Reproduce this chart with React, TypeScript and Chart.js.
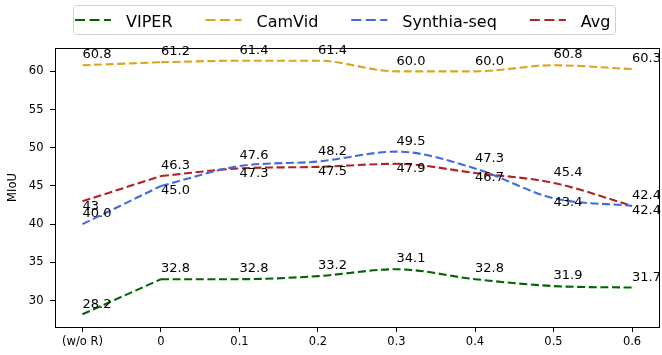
import { useEffect, useRef } from "react";
import { Chart, registerables } from "chart.js";

Chart.register(...registerables);

// ---- data ----
const xLabels = ["(w/o R)", "0", "0.1", "0.2", "0.3", "0.4", "0.5", "0.6"];
const yTicks = [30, 35, 40, 45, 50, 55, 60];

const viper = [28.2, 32.8, 32.8, 33.2, 34.1, 32.8, 31.9, 31.7];
const camvid = [60.8, 61.2, 61.4, 61.4, 60.0, 60.0, 60.8, 60.3];
const synthia = [40.0, 45.0, 47.6, 48.2, 49.5, 47.3, 43.4, 42.4];
const avg = [43, 46.3, 47.3, 47.5, 47.9, 46.7, 45.4, 42.4];

const viperText = ["28.2", "32.8", "32.8", "33.2", "34.1", "32.8", "31.9", "31.7"];
const camvidText = ["60.8", "61.2", "61.4", "61.4", "60.0", "60.0", "60.8", "60.3"];
const synthiaText = ["40.0", "45.0", "47.6", "48.2", "49.5", "47.3", "43.4", "42.4"];
const avgText = ["43", "46.3", "47.3", "47.5", "47.9", "46.7", "45.4", "42.4"];

// label placement: a = above point, b = below point
const viperPos = ["a", "a", "a", "a", "a", "a", "a", "a"];
const camvidPos = ["a", "a", "a", "a", "a", "a", "a", "a"];
const synthiaPos = ["a", "b", "a", "a", "a", "a", "b", "b"];
const avgPos = ["b", "a", "b", "b", "b", "b", "a", "a"];

const series = [
  { name: "VIPER", color: "#006400", values: viper, text: viperText, pos: viperPos },
  { name: "CamVid", color: "#DAA520", values: camvid, text: camvidText, pos: camvidPos },
  { name: "Synthia-seq", color: "#4169E1", values: synthia, text: synthiaText, pos: synthiaPos },
  { name: "Avg", color: "#B22222", values: avg, text: avgText, pos: avgPos },
];

const FONT = '"DejaVu Sans", sans-serif';
const DASH = [8, 3.6];

export default function App() {
  const ref = useRef<HTMLCanvasElement | null>(null);

  useEffect(() => {
    const canvas = ref.current;
    if (!canvas) return;

    const all = [...viper, ...camvid, ...synthia, ...avg];
    const lo = Math.min(...all);
    const hi = Math.max(...all);
    const pad = (hi - lo) * 0.05;
    const xPad = (xLabels.length - 1) * 0.05;

    const datasets: any[] = [];
    series.forEach((s) => {
      // first segment: straight
      datasets.push({
        label: s.name,
        data: s.values.slice(0, 2).map((v, i) => ({ x: i, y: v })),
        borderColor: s.color,
        borderWidth: 2.1,
        borderDash: DASH,
        pointRadius: 0,
        tension: 0,
        fill: false,
      });
      // remaining: smooth
      datasets.push({
        label: s.name + "_s",
        data: s.values.slice(1).map((v, i) => ({ x: i + 1, y: v })),
        borderColor: s.color,
        borderWidth: 2.1,
        borderDash: DASH,
        pointRadius: 0,
        cubicInterpolationMode: "monotone",
        fill: false,
      });
    });

    const overlay = {
      id: "overlay",
      afterDraw(chart: any) {
        const ctx = chart.ctx as CanvasRenderingContext2D;
        const { left, top, right, bottom } = chart.chartArea;
        const xs = chart.scales.x;
        const ys = chart.scales.y;
        ctx.save();
        // frame
        ctx.strokeStyle = "#000";
        ctx.lineWidth = 1;
        ctx.setLineDash([]);
        const l = Math.floor(left) + 0.5;
        const t = Math.floor(top) + 0.5;
        const r = Math.floor(right) + 0.5;
        const b = Math.floor(bottom) + 0.5;
        ctx.strokeRect(l, t, r - l, b - t);

        // data labels
        ctx.font = `13px ${FONT}`;
        ctx.fillStyle = "#000";
        ctx.textAlign = "left";
        ctx.textBaseline = "alphabetic";
        series.forEach((s) => {
          s.values.forEach((v, i) => {
            const px = xs.getPixelForValue(i);
            const py = ys.getPixelForValue(v);
            const dy = s.pos[i] === "a" ? -6.8 : 8.3;
            ctx.fillText(s.text[i], px, py + dy);
          });
        });

        // legend
        ctx.font = `16px ${FONT}`;
        const handle = 36;
        const textPad = 15;
        const colSpace = 33;
        const cy = 20;
        let x = 75;
        const parts: { x: number; tx: number; s: any }[] = [];
        series.forEach((s) => {
          const w = ctx.measureText(s.name).width;
          parts.push({ x, tx: x + handle + textPad, s });
          x += handle + textPad + w + colSpace;
        });
        const endX = x - colSpace;
        const bx = 73.5, by = 5.5, bw = endX + 5 - bx, bh = 29;
        ctx.beginPath();
        (ctx as any).roundRect(bx, by, bw, bh, 3);
        ctx.fillStyle = "rgba(255,255,255,0.8)";
        ctx.fill();
        ctx.strokeStyle = "#d0d0d0";
        ctx.lineWidth = 1;
        ctx.stroke();
        parts.forEach((p) => {
          ctx.beginPath();
          ctx.setLineDash([10, 4.5]);
          ctx.strokeStyle = p.s.color;
          ctx.lineWidth = 2.1;
          ctx.moveTo(p.x, cy);
          ctx.lineTo(p.x + handle, cy);
          ctx.stroke();
          ctx.setLineDash([]);
          ctx.fillStyle = "#000";
          ctx.textBaseline = "alphabetic";
          ctx.fillText(p.s.name, p.tx, 26.5);
        });
        ctx.restore();
      },
    };

    const chart = new Chart(canvas, {
      type: "line",
      data: { datasets },
      options: {
        animation: false,
        responsive: false,
        events: [],
        layout: { padding: { top: 48, right: 2.5, left: 0, bottom: 0 } },
        plugins: {
          legend: { display: false },
          tooltip: { enabled: false },
        },
        scales: {
          x: {
            type: "linear",
            min: -xPad,
            max: xLabels.length - 1 + xPad,
            afterBuildTicks: (scale: any) => {
              scale.ticks = xLabels.map((_, i) => ({ value: i }));
            },
            afterFit: (scale: any) => {
              scale.height = 28;
            },
            border: { display: false },
            grid: {
              drawOnChartArea: false,
              drawTicks: true,
              tickLength: 5,
              color: "#000",
              lineWidth: 1,
            },
            ticks: {
              autoSkip: false,
              maxRotation: 0,
              padding: 3.5,
              color: "#000",
              font: { family: FONT, size: 11.5 },
              callback: (v: any) => xLabels[Math.round(Number(v))] ?? "",
            },
          },
          y: {
            type: "linear",
            min: lo - pad,
            max: hi + pad,
            afterBuildTicks: (scale: any) => {
              scale.ticks = yTicks.map((v) => ({ value: v }));
            },
            afterFit: (scale: any) => {
              scale.width = 55;
            },
            border: { display: false },
            grid: {
              drawOnChartArea: false,
              drawTicks: true,
              tickLength: 5,
              color: "#000",
              lineWidth: 1,
            },
            ticks: {
              padding: 6.5,
              color: "#000",
              font: { family: FONT, size: 11.5 },
              callback: (v: any) => String(v),
            },
            title: {
              display: true,
              text: "MIoU",
              color: "#000",
              font: { family: FONT, size: 11.5 },
              padding: { top: 6, bottom: 0 },
            },
          },
        },
      },
      plugins: [overlay],
    } as any);

    return () => chart.destroy();
  }, []);

  return (
    <div style={{ position: "absolute", left: 0, top: 0, width: 662, height: 355, background: "#fff" }}>
      <canvas ref={ref} width={662} height={355} style={{ display: "block", width: 662, height: 355 }} />
    </div>
  );
}
